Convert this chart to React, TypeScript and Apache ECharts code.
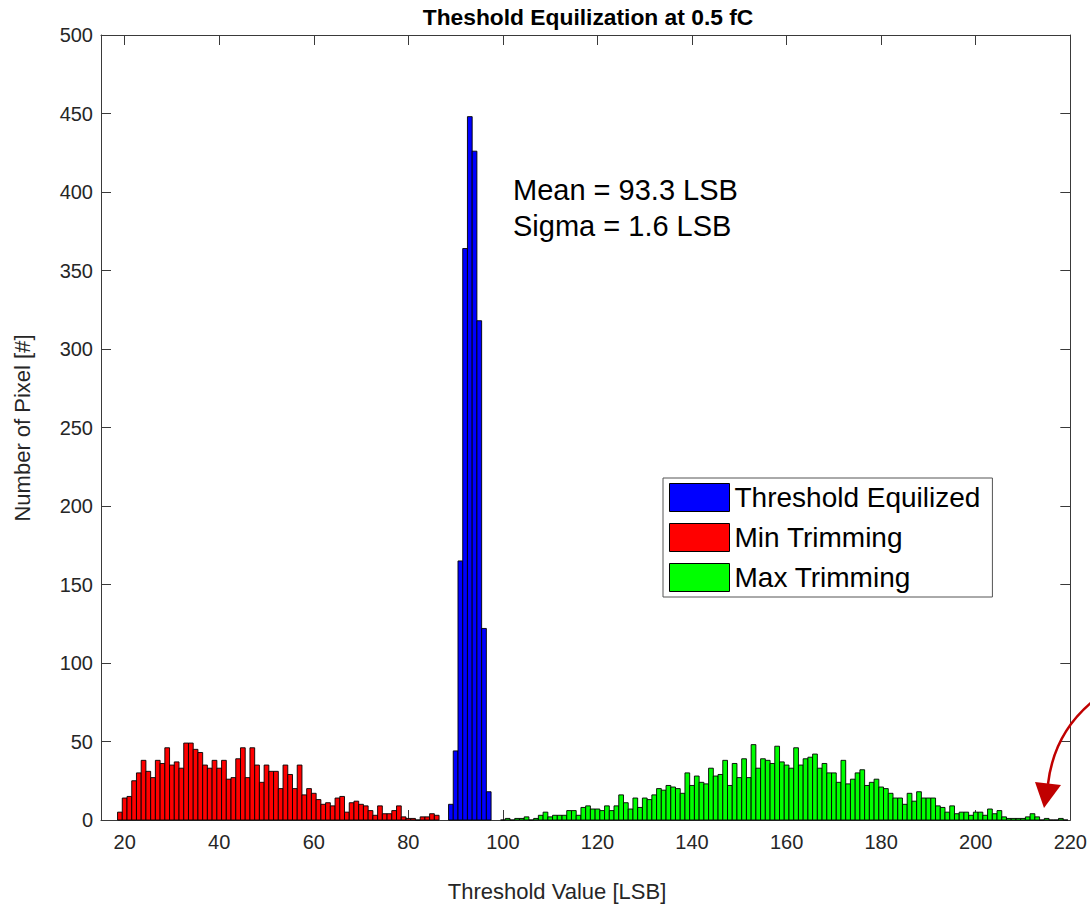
import React, { useEffect, useRef } from "react";
import * as echarts from "echarts";

const FONT = '"Liberation Sans", Arial, Helvetica, sans-serif';

const titleText = "Theshold Equilization at 0.5 fC";
const xAxisName = "Threshold Value [LSB]";
const yAxisName = "Number of Pixel [#]";
const statsLines = ["Mean = 93.3 LSB", "Sigma = 1.6 LSB"];

const xTicks = [20, 40, 60, 80, 100, 120, 140, 160, 180, 200, 220];

const seriesNames = ["Threshold Equilized", "Min Trimming", "Max Trimming"];
const seriesColors = ["#0000ff", "#ff0000", "#00ff00"];

// Blue: Threshold Equilized, bins centred at 89..97
const blueStart = 89;
const blueCounts = [10, 44, 165, 364, 448, 426, 318, 122, 18];

// Red: Min Trimming, bins centred at 19..86
const redStart = 19;
const redCounts = [
  5, 14, 15, 25, 30, 38, 31, 27, 38, 36, 46, 35, 37, 33, 49, 49, 45, 43, 35, 33,
  38, 33, 38, 26, 27, 39, 46, 27, 46, 35, 24, 35, 31, 31, 20, 35, 29, 20, 35, 16,
  20, 17, 13, 10, 11, 9, 14, 15, 5, 11, 12, 10, 9, 6, 3, 9, 4, 4, 6, 9,
  2, 1, 1, 0, 2, 2, 4, 3,
];

// Green: Max Trimming, bins centred at 100..219
const greenStart = 100;
const greenCounts = [
  0, 1, 0, 1, 1, 2, 0, 1, 3, 5, 2, 3, 3, 3, 6, 6, 3, 8, 9, 7,
  7, 6, 9, 6, 9, 16, 11, 7, 14, 8, 14, 13, 16, 20, 19, 22, 21, 20, 17, 30,
  22, 28, 24, 23, 33, 28, 29, 38, 22, 36, 27, 39, 27, 48, 33, 39, 38, 36, 47, 37,
  35, 33, 46, 35, 39, 40, 42, 33, 36, 30, 30, 24, 38, 23, 26, 30, 32, 22, 24, 26,
  21, 20, 17, 14, 14, 10, 17, 12, 18, 14, 14, 14, 9, 8, 5, 9, 4, 5, 5, 3,
  5, 5, 3, 7, 4, 6, 2, 1, 1, 1, 1, 2, 4, 2, 0, 1, 0, 0, 1, 0,
];

const toData = (start: number, counts: number[]) =>
  counts.map((c, i) => [start + i, c]);

export default function App() {
  const ref = useRef<HTMLDivElement>(null);

  useEffect(() => {
    document.body.style.margin = "0";
    if (!ref.current) return;
    const chart = echarts.init(ref.current, null, { renderer: "svg" });

    const makeSeries = (name: string, color: string, data: number[][]) => ({
      type: "custom",
      name,
      data,
      encode: { x: 0, y: 1 },
      itemStyle: { color, borderColor: "#000", borderWidth: 1 },
      renderItem: (params: any, api: any) => {
        const x = api.value(0);
        const y = api.value(1);
        const tl = api.coord([x - 0.5, y]);
        const br = api.coord([x + 0.5, 0]);
        return {
          type: "rect",
          shape: { x: tl[0], y: tl[1], width: br[0] - tl[0], height: br[1] - tl[1] },
          style: { fill: color, stroke: "#000", lineWidth: 0.9 },
        };
      },
    });

    const axisLineStyle = { color: "#3a3a3a", width: 1 };
    const labelStyle = { fontSize: 20, color: "#262626", fontFamily: FONT };

    chart.setOption({
      animation: false,
      backgroundColor: "#ffffff",
      title: {
        text: titleText,
        left: 588,
        top: 5,
        padding: 0,
        textAlign: "center",
        textStyle: { fontSize: 22.8, fontWeight: "bold", color: "#000", fontFamily: FONT },
      },
      grid: { left: 101, top: 35, width: 972, height: 785, containLabel: false },
      xAxis: [
        {
          type: "value",
          min: 15,
          max: 220,
          position: "bottom",
          axisLine: { show: true, lineStyle: axisLineStyle },
          axisTick: { show: true, inside: true, length: 10, customValues: xTicks, lineStyle: axisLineStyle },
          axisLabel: { show: true, customValues: xTicks, margin: 12, ...labelStyle },
          splitLine: { show: false },
        },
        {
          type: "value",
          min: 15,
          max: 220,
          position: "top",
          axisLine: { show: true, onZero: false, lineStyle: axisLineStyle },
          axisTick: { show: true, inside: true, length: 10, customValues: xTicks, lineStyle: axisLineStyle },
          axisLabel: { show: false },
          splitLine: { show: false },
        },
      ],
      yAxis: [
        {
          type: "value",
          min: 0,
          max: 500,
          interval: 50,
          position: "left",
          axisLine: { show: true, lineStyle: axisLineStyle },
          axisTick: { show: true, inside: true, length: 10, lineStyle: axisLineStyle },
          axisLabel: { show: true, margin: 8, ...labelStyle },
          splitLine: { show: false },
        },
        {
          type: "value",
          min: 0,
          max: 500,
          interval: 50,
          position: "right",
          axisLine: { show: true, onZero: false, lineStyle: axisLineStyle },
          axisTick: { show: true, inside: true, length: 10, lineStyle: axisLineStyle },
          axisLabel: { show: false },
          splitLine: { show: false },
        },
      ],
      legend: {
        orient: "vertical",
        left: 663,
        top: 478,
        padding: [5, 12, 5, 6],
        itemGap: 11,
        itemWidth: 60,
        itemHeight: 28,
        selectedMode: false,
        backgroundColor: "#ffffff",
        borderColor: "#555555",
        borderWidth: 1,
        itemStyle: { borderColor: "#000", borderWidth: 1 },
        textStyle: { fontSize: 28, color: "#000", fontFamily: FONT },
        data: seriesNames.map((n) => ({ name: n, icon: "rect" })),
      },
      series: [
        makeSeries(seriesNames[0], seriesColors[0], toData(blueStart, blueCounts)),
        makeSeries(seriesNames[1], seriesColors[1], toData(redStart, redCounts)),
        makeSeries(seriesNames[2], seriesColors[2], toData(greenStart, greenCounts)),
      ],
      graphic: [
        {
          type: "text",
          x: 557,
          y: 891,
          style: {
            text: xAxisName,
            fill: "#262626",
            font: `22px ${FONT}`,
            textAlign: "center",
            textVerticalAlign: "middle",
          },
        },
        {
          type: "text",
          x: 22,
          y: 428,
          rotation: Math.PI / 2,
          style: {
            text: yAxisName,
            fill: "#262626",
            font: `22px ${FONT}`,
            textAlign: "center",
            textVerticalAlign: "middle",
          },
        },
        {
          type: "text",
          x: 513,
          y: 190,
          style: {
            text: statsLines[0],
            fill: "#000",
            font: `29px ${FONT}`,
            textAlign: "left",
            textVerticalAlign: "middle",
          },
        },
        {
          type: "text",
          x: 513,
          y: 226,
          style: {
            text: statsLines[1],
            fill: "#000",
            font: `29px ${FONT}`,
            textAlign: "left",
            textVerticalAlign: "middle",
          },
        },
        {
          type: "bezierCurve",
          shape: { x1: 1092, y1: 702, cpx1: 1068, cpy1: 722, cpx2: 1052, cpy2: 750, x2: 1048, y2: 784 },
          style: { stroke: "#c00000", lineWidth: 2.5, fill: null },
          z: 100,
        },
        {
          type: "polygon",
          shape: { points: [[1035, 782], [1061, 785], [1044, 808]] },
          style: { fill: "#c00000" },
          z: 100,
        },
      ],
    });

    return () => chart.dispose();
  }, []);

  return (
    <div
      ref={ref}
      style={{ position: "absolute", left: 0, top: 0, width: 1090, height: 904, background: "#fff" }}
    />
  );
}
